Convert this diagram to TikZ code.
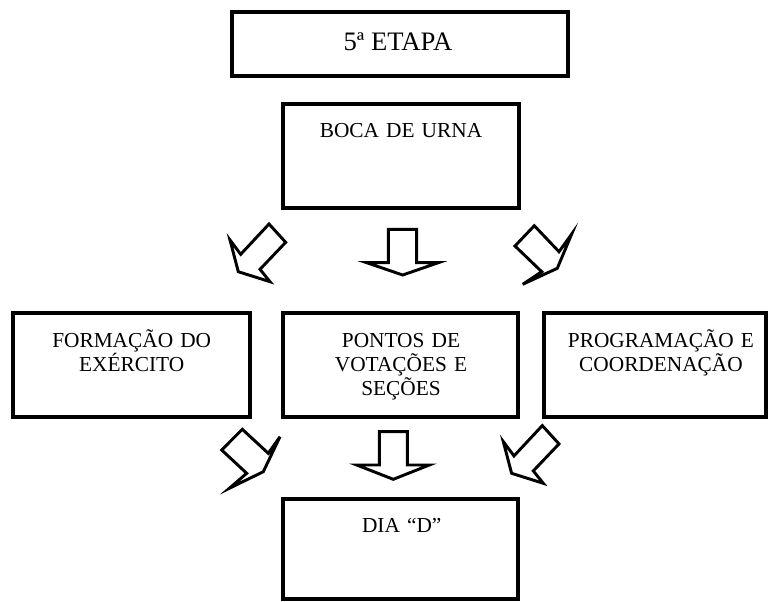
\documentclass[tikz,border=0pt]{standalone}
\usepackage{fontspec}
\setmainfont{Liberation Serif}
\begin{document}
\begin{tikzpicture}[x=0.75pt,y=-0.75pt,
  box/.style={draw=black, line width=2.9pt, inner sep=0pt, outer sep=0pt},
  boxlabel/.style={text width=175pt, align=center, inner sep=0pt, anchor=base,
    font=\fontsize{16}{18}\selectfont},
  titlelabel/.style={inner sep=0pt, anchor=base, font=\fontsize{20}{24}\selectfont},
  blockarrow/.style={draw=black, fill=white, line width=2.2pt, line join=miter}]
\useasboundingbox (0,0) rectangle (768,601);
\clip (0,0) rectangle (768,601);

% stage title
\node[box, minimum width=252pt, minimum height=48pt] (etapa) at (400,44) {};
\node[titlelabel] (etapaText) at (398,50) {5ª ETAPA};

% first level
\node[box, minimum width=177pt, minimum height=78pt] (boca) at (401,156) {};
\node[boxlabel] (bocaText) at (401,137) {BOCA DE URNA};

% second level
\node[box, minimum width=177.75pt, minimum height=78pt] (exercito) at (131.5,365) {};
\node[boxlabel] (exercitoText) at (131.7,347) {FORMAÇÃO DO\\EXÉRCITO};
\node[box, minimum width=176.25pt, minimum height=78pt] (pontos) at (400.5,365) {};
\node[boxlabel] (pontosText) at (401,347) {PONTOS DE\\VOTAÇÕES E\\SEÇÕES};
\node[box, minimum width=166.5pt, minimum height=78pt] (programa) at (655,365) {};
\node[boxlabel] (programaText) at (661,347) {PROGRAMAÇÃO E\\COORDENAÇÃO};

% final level
\node[box, minimum width=176.25pt, minimum height=75pt] (dia) at (400.5,549) {};
\node[boxlabel] (diaText) at (401.7,532) {DIA “D”};

% block arrows below the first level
\draw[blockarrow] (269,224) -- (285.7,242.3) -- (260,269.3) -- (270,281.7)
  -- (238.3,271.7) -- (230,240) -- (240.7,254.3) -- cycle;
\draw[blockarrow] (388.3,229.3) -- (416.7,229.3) -- (416.7,262.7) -- (438.3,262.7)
  -- (402.7,275) -- (366.7,262.7) -- (388.3,262.7) -- cycle;
\draw[blockarrow] (534.3,225.7) -- (515,246) -- (541.7,271.7) -- (522.7,284.3)
  -- (557.3,268.3) -- (571.7,234) -- (559,251.7) -- cycle;

% block arrows below the second level
\draw[blockarrow] (242.3,429.3) -- (221.7,450) -- (246.7,473.3) -- (229.3,488.3)
  -- (263.3,471.7) -- (280,436.7) -- (268.3,453.3) -- cycle;
\draw[blockarrow] (379.3,431.6) -- (407.3,431.6) -- (407.3,465) -- (429.3,465)
  -- (393.3,479.3) -- (356.7,465) -- (379.3,465) -- cycle;
\draw[blockarrow] (542.3,425.6) -- (559,443.9) -- (533.3,470.9) -- (543.3,483.3)
  -- (511.6,473.3) -- (503.3,441.6) -- (514,455.9) -- cycle;
\end{tikzpicture}
\end{document}
